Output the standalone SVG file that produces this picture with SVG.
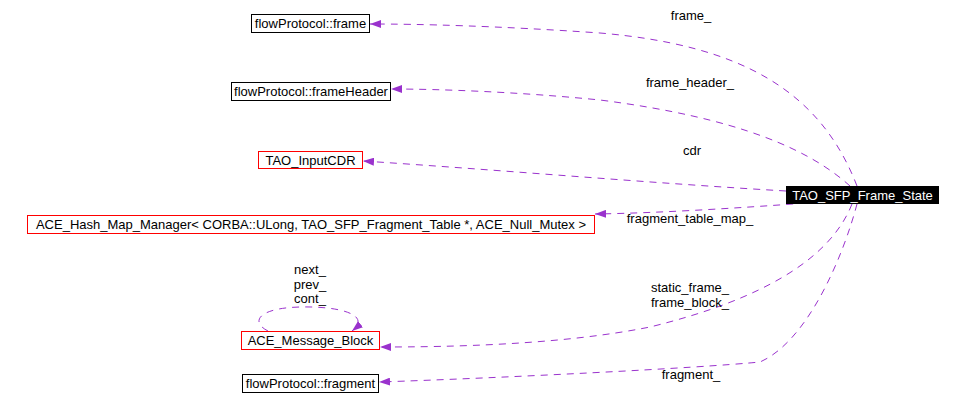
<svg xmlns="http://www.w3.org/2000/svg" width="964" height="410" viewBox="0 0 964 410">
<style>
text{font-family:"Liberation Sans",Arial,sans-serif;font-size:13px;fill:#000}
.n text{text-anchor:middle}
.bk{fill:#fff;stroke:#000;stroke-width:1}
.rd{fill:#fff;stroke:#ff0000;stroke-width:1}
.e{fill:none;stroke:#9a32cd;stroke-width:1;stroke-dasharray:7,6}
.lbl{text-anchor:middle}
</style>
<defs>
<marker id="ah" markerUnits="userSpaceOnUse" markerWidth="12" markerHeight="8" refX="11" refY="4" orient="auto">
<path d="M0,0 L11,4 L0,8 z" fill="#9a32cd"/>
</marker>
</defs>
<rect width="964" height="410" fill="#fff"/>
<g id="edges">
<path class="e" marker-end="url(#ah)" d="M857,186 C820,90 740,45 600,33 C500,26 420,24 370,24"/>
<path class="e" marker-end="url(#ah)" d="M850,186 C810,150 740,118 600,100 C520,92 440,89 391,89"/>
<path class="e" marker-end="url(#ah)" d="M786,191 C650,183 500,170 363,161"/>
<path class="e" marker-end="url(#ah)" d="M806,203 C740,208 660,213 595,214"/>
<path class="e" marker-end="url(#ah)" d="M852,204 C830,260 760,300 650,327 C560,345 450,347 380,347"/>
<path class="e" marker-end="url(#ah)" d="M857,204 C845,250 810,340 760,362 C700,368 500,378 379,382"/>
<path class="e" marker-end="url(#ah)" d="M268,331 C250,322 258,308 300,307 C340,306 372,315 352,331"/>
<text class="lbl" x="691" y="20">frame_</text>
<text class="lbl" x="690" y="87">frame_header_</text>
<text class="lbl" x="692" y="155">cdr</text>
<text class="lbl" x="690" y="223">fragment_table_map_</text>
<text class="lbl" x="310" y="274">next_</text>
<text class="lbl" x="310" y="289">prev_</text>
<text class="lbl" x="310" y="303">cont_</text>
<text class="lbl" x="690" y="292">static_frame_</text>
<text class="lbl" x="690" y="307">frame_block_</text>
<text class="lbl" x="691" y="379">fragment_</text>
</g>
<g id="TAO_SFP_Frame_State" class="n">
<rect x="786" y="186" width="153" height="18" fill="#000"/>
<text x="862.5" y="200" style="fill:#fff">TAO_SFP_Frame_State</text>
</g>
<g id="flowProtocol_frame" class="n">
<rect class="bk" x="251.5" y="14.5" width="118" height="18"/>
<text x="310.5" y="28">flowProtocol::frame</text>
</g>
<g id="flowProtocol_frameHeader" class="n">
<rect class="bk" x="231.5" y="82.5" width="159" height="18"/>
<text x="311" y="96">flowProtocol::frameHeader</text>
</g>
<g id="TAO_InputCDR" class="n">
<rect class="rd" x="258.5" y="151.5" width="104" height="17"/>
<text x="310.5" y="165">TAO_InputCDR</text>
</g>
<g id="ACE_Hash_Map_Manager" class="n">
<rect class="rd" x="27.5" y="215.5" width="567" height="18"/>
<text x="311" y="229">ACE_Hash_Map_Manager&lt; CORBA::ULong, TAO_SFP_Fragment_Table *, ACE_Null_Mutex &gt;</text>
</g>
<g id="ACE_Message_Block" class="n">
<rect class="rd" x="241.5" y="331.5" width="138" height="18"/>
<text x="310.5" y="345">ACE_Message_Block</text>
</g>
<g id="flowProtocol_fragment" class="n">
<rect class="bk" x="242.5" y="374.5" width="136" height="18"/>
<text x="310.5" y="388">flowProtocol::fragment</text>
</g>
</svg>
